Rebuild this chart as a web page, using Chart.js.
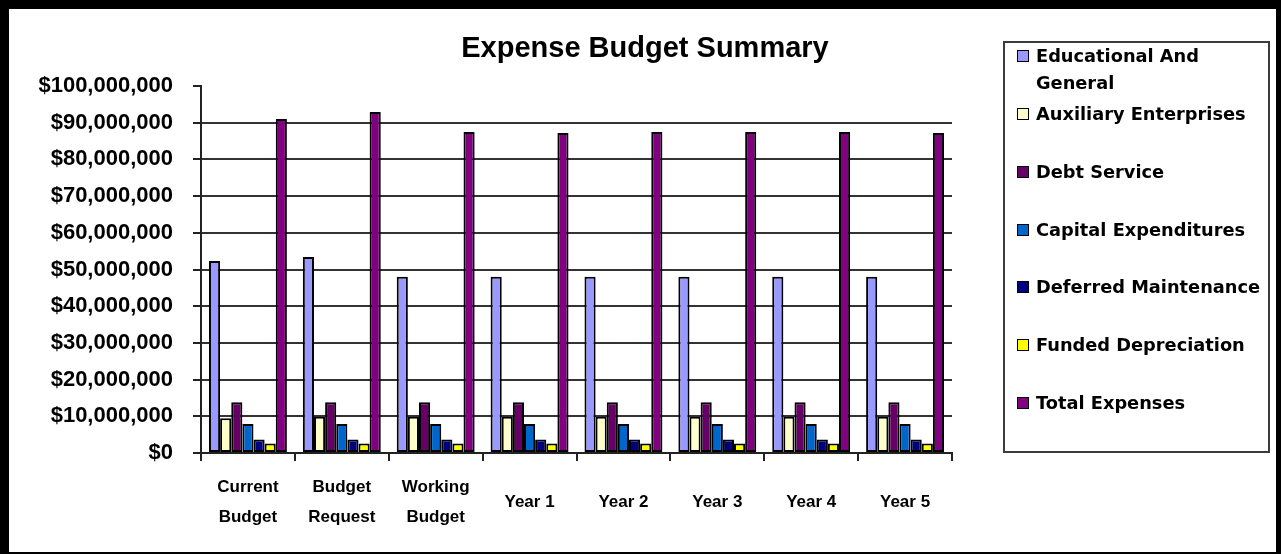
<!DOCTYPE html>
<html>
<head>
<meta charset="utf-8">
<title>Expense Budget Summary</title>
<script src="https://cdn.jsdelivr.net/npm/chart.js@4.4.1/dist/chart.umd.min.js"></script>
<style>
  html, body { margin: 0; padding: 0; background: #fff; }
  #frame {
    position: absolute; left: 0; top: 0; width: 1281px; height: 554px;
    box-sizing: border-box; background: #fff;
    border-style: solid; border-color: #000;
    border-width: 9px 5px 2px 9px;
  }
  #chart { position: absolute; left: 0; top: 0; }
  #title {
    position: absolute; left: 345px; top: 30px; width: 600px;
    text-align: center; font: bold 29px "Liberation Sans", Arial, sans-serif;
    line-height: 34px; color: #000;
  }
  #legend {
    position: absolute; left: 1003px; top: 41px; width: 267px; height: 412px;
    box-sizing: border-box; border: 2px solid #3c3c3c; background: #fff;
  }
  .item { position: absolute; left: 0; }
  .swatch {
    position: absolute; left: 12px; width: 10px; height: 10px;
    border: 1px solid #000;
  }
  .label {
    position: absolute; left: 31px; width: 236px;
    font: bold 17.8px "DejaVu Sans", sans-serif; line-height: 26.7px; color: #000;
  }
</style>
</head>
<body>
<div id="frame"></div>
<canvas id="chart" width="1281" height="554"></canvas>
<div id="title">Expense Budget Summary</div>
<div id="legend"></div>
<script>
  // categories along the x axis (multi-line labels as arrays)
  const categories = [
    ['Current', 'Budget'], ['Budget', 'Request'], ['Working', 'Budget'],
    'Year 1', 'Year 2', 'Year 3', 'Year 4', 'Year 5'
  ];

  const seriesNames = [
    'Educational And General', 'Auxiliary Enterprises', 'Debt Service',
    'Capital Expenditures', 'Deferred Maintenance', 'Funded Depreciation', 'Total Expenses'
  ];
  const seriesColors = ['#9999FF', '#FFFFCC', '#660066', '#0066CC', '#000080', '#FFFF00', '#800080'];

  // values, in dollars
  const educationalGeneral = [52300000, 53400000, 48000000, 48000000, 48000000, 48000000, 48000000, 48000000];
  const auxiliaryEnterprises = [9500000, 9900000, 9900000, 9900000, 9900000, 9900000, 9900000, 9900000];
  const debtService = [13800000, 13800000, 13800000, 13800000, 13800000, 13800000, 13800000, 13800000];
  const capitalExpenditures = [7900000, 7900000, 7900000, 7900000, 7900000, 7900000, 7900000, 7900000];
  const deferredMaintenance = [3700000, 3700000, 3700000, 3700000, 3700000, 3700000, 3700000, 3700000];
  const fundedDepreciation = [2600000, 2600000, 2600000, 2600000, 2600000, 2600000, 2600000, 2600000];
  const totalExpenses = [91000000, 92900000, 87500000, 87200000, 87500000, 87500000, 87500000, 87200000];

  const seriesValues = [
    educationalGeneral, auxiliaryEnterprises, debtService, capitalExpenditures,
    deferredMaintenance, fundedDepreciation, totalExpenses
  ];

  const yMin = 0;
  const yMax = 100000000;
  const yStep = 10000000;

  const datasets = seriesNames.map((name, i) => ({
    label: name,
    data: seriesValues[i],
    backgroundColor: seriesColors[i],
    borderColor: '#000',
    borderWidth: 2,
    borderSkipped: false,
    barPercentage: 1.0,
    categoryPercentage: 0.83,
  }));

  new Chart(document.getElementById('chart').getContext('2d'), {
    type: 'bar',
    data: { labels: categories, datasets: datasets },
    options: {
      responsive: false,
      animation: false,
      layout: { padding: { top: 86, right: 329, bottom: 0, left: 0 } },
      plugins: {
        legend: { display: false },
        title: { display: false },
        tooltip: { enabled: false },
      },
      scales: {
        x: {
          grid: {
            offset: true,
            drawOnChartArea: false,
            tickLength: 8,
            tickColor: '#222',
            lineWidth: 2,
          },
          border: { color: '#222', width: 2 },
          ticks: {
            color: '#000',
            padding: 26,
            crossAlign: 'center',
            maxRotation: 0,
            autoSkip: false,
            font: { family: '"Liberation Sans", Arial, sans-serif', size: 17, weight: 'bold', lineHeight: '30px' },
          },
          afterFit: (scale) => { scale.height = 101; },
        },
        y: {
          min: yMin,
          max: yMax,
          grid: {
            color: (ctx) => (ctx.tick && ctx.tick.value === yMax ? 'rgba(0,0,0,0)' : '#333'),
            tickColor: '#222',
            tickLength: 8,
            lineWidth: 2,
          },
          border: { color: '#222', width: 2 },
          ticks: {
            stepSize: yStep,
            color: '#000',
            padding: 20,
            font: { family: '"Liberation Sans", Arial, sans-serif', size: 22, weight: 'bold' },
            callback: (v) => '$' + Number(v).toLocaleString('en-US'),
          },
          afterFit: (scale) => { scale.width = 201; },
        },
      },
    },
  });

  // legend box on the right, built from the same series arrays
  const legend = document.getElementById('legend');
  const legendTop = 41;
  seriesNames.forEach((name, i) => {
    const center = 56.7 + 57.75 * i - legendTop - 2;
    const item = document.createElement('div');
    item.className = 'item';
    item.style.top = (center - 13.35) + 'px';
    const sw = document.createElement('div');
    sw.className = 'swatch';
    sw.style.top = '7px';
    sw.style.background = seriesColors[i];
    const lb = document.createElement('div');
    lb.className = 'label';
    lb.textContent = name;
    item.appendChild(sw);
    item.appendChild(lb);
    legend.appendChild(item);
  });
</script>
</body>
</html>
